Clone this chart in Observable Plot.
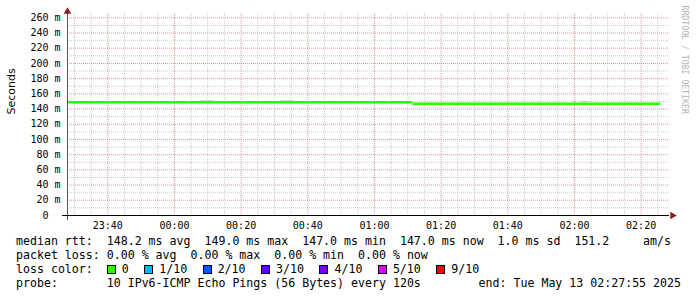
<!DOCTYPE html>
<html><head><meta charset="utf-8">
<script src="https://cdn.jsdelivr.net/npm/d3@7"></script>
<script src="https://cdn.jsdelivr.net/npm/@observablehq/plot@0.6"></script>
<style>
html,body{margin:0;padding:0;background:#fff;}
#wrap{position:relative;width:697px;height:297px;overflow:hidden;background:#fff;}
#chart svg{display:block;}
.row{position:absolute;font-family:"DejaVu Sans Mono",monospace;font-size:11.6px;line-height:14px;white-space:pre;color:#000;}
.box{position:absolute;width:7px;height:7px;border:1px solid #000;}
</style></head><body>
<div id="wrap"><div id="chart"></div><div id="legend"></div></div>
<script>
// ---- data ----
const viewStart = "2025-05-12T23:27:55Z";
const viewEnd = "2025-05-13T02:28:31Z";
const segStart = ["2025-05-12T23:27:55Z", "2025-05-13T01:11:30Z"];
const segEnd = ["2025-05-13T01:11:30Z", "2025-05-13T02:25:55Z"];
const medianRtt = [149.0, 147.0];           // ms
const smokeStart = ["2025-05-13T00:07:55Z", "2025-05-13T00:31:55Z", "2025-05-13T02:01:55Z"];
const smokeEnd = ["2025-05-13T00:11:55Z", "2025-05-13T00:35:55Z", "2025-05-13T02:03:55Z"];
const smokeMax = [150.8, 150.8, 149.6];     // ms
const yTicks = [0, 20, 40, 60, 80, 100, 120, 140, 160, 180, 200, 220, 240, 260];
const yMinor = [10, 30, 50, 70, 90, 110, 130, 150, 170, 190, 210, 230, 250];
const statNames = ["avg", "max", "min", "now"];
const rttStats = [148.2, 149.0, 147.0, 147.0];
const rttSd = 1.0;
const rttAmps = 151.2;
const lossStats = [0.00, 0.00, 0.00, 0.00];
const lossLabels = ["0", "1/10", "2/10", "3/10", "4/10", "5/10", "9/10"];
const lossColors = ["#26ff00", "#00b8ff", "#0059ff", "#5e00ff", "#7e00ff", "#dd00ff", "#ff0000"];
const probeText = "10 IPv6-ICMP Echo Pings (56 Bytes) every 120s";
const endText = "end: Tue May 13 02:27:55 2025";

// ---- derived tables ----
const t0 = new Date(viewStart), t1 = new Date(viewEnd);
const medianData = medianRtt.map((v, i) => ({start: new Date(segStart[i]), end: new Date(segEnd[i]), v}));
const smokeData = smokeMax.map((v, i) => ({start: new Date(smokeStart[i]), end: new Date(smokeEnd[i]), v}));
const majorX = d3.utcMinute.every(20).range(t0, t1);
const minorX = d3.utcMinute.every(5).range(t0, t1).filter(d => d.getUTCMinutes() % 20 !== 0);
const yMax = 265.7;
const mono = "DejaVu Sans Mono";
const arrowUp = [{x: t0, y: yMax}];
const arrowRight = [{x: t1, y: 0}];

const chart = Plot.plot({
  width: 697,
  height: 232,
  marginLeft: 67,
  marginRight: 28,
  marginTop: 13,
  marginBottom: 17,
  style: {background: "transparent", overflow: "visible"},
  x: {type: "utc", domain: [t0, t1], axis: null},
  y: {domain: [0, yMax], axis: null},
  marks: [
    Plot.gridX(minorX, {stroke: "#8c8c8c", strokeOpacity: 0.45, strokeDasharray: "1,1"}),
    Plot.gridY(yMinor, {stroke: "#8c8c8c", strokeOpacity: 0.45, strokeDasharray: "1,1"}),
    Plot.gridX(majorX, {stroke: "#d04040", strokeOpacity: 0.55, strokeDasharray: "1,1"}),
    Plot.gridY(yTicks.filter(d => d > 0), {stroke: "#d04040", strokeOpacity: 0.55, strokeDasharray: "1,1"}),
    Plot.ruleY(smokeData, {x1: "start", x2: "end", y: "v", stroke: "#c4c4c4", strokeWidth: 1}),
    Plot.ruleY(medianData, {x1: "start", x2: "end", y: "v", stroke: lossColors[0], strokeWidth: 2.4}),
    Plot.ruleX([t0], {stroke: "#555", strokeWidth: 1, insetBottom: -5}),
    Plot.ruleY([0], {stroke: "#000", strokeWidth: 1.2, insetLeft: -5}),
    Plot.dot(arrowUp, {x: "x", y: "y", symbol: "triangle", r: 2.8, fill: "#8e1c1c", dy: -2}),
    Plot.dot(arrowRight, {x: "x", y: "y", symbol: "triangle", r: 2.8, fill: "#8e1c1c", rotate: 90, dx: 3}),
    Plot.axisX(majorX, {tickSize: 0, tickPadding: 6, tickFormat: d3.utcFormat("%H:%M"), fontFamily: mono, fontSize: 10, fill: "#000"}),
    Plot.axisY(yTicks, {tickSize: 0, tickPadding: 7, textAnchor: "end",
      tickFormat: d => d === 0 ? "0\u00a0\u00a0" : `${d} m`, fontFamily: mono, fontSize: 10, fill: "#000"}),
    Plot.text(["Seconds"], {frameAnchor: "left", text: d => d, rotate: -90, dx: -56, fontFamily: "DejaVu Sans", fontSize: 11, fill: "#000"}),
    Plot.text(["RRDTOOL / TOBI OETIKER"], {frameAnchor: "top-right", text: d => d, rotate: 90, textAnchor: "start", dx: 18, dy: -8, fontFamily: mono, fontSize: 8.2, fill: "#b4b4b4"})
  ]
});
document.getElementById("chart").appendChild(chart);

// ---- legend (below the svg) ----
const legend = document.getElementById("legend");
const cw = 6.98, left = 16;
function row(text, x, center, align) {
  const d = document.createElement("div");
  d.className = "row";
  d.textContent = text;
  d.style.top = (center - 7.5) + "px";
  if (align === "right") { d.style.right = (697 - x) + "px"; } else { d.style.left = x + "px"; }
  legend.appendChild(d);
}
row("median rtt:  " + rttStats.map((v, i) => `${v.toFixed(1)} ms ${statNames[i]}`).join("  ")
  + `  ${rttSd.toFixed(1)} ms sd  ${rttAmps.toFixed(1)}`, left, 241);
row("am/s", 671, 241, "right");
row("packet loss: " + lossStats.map((v, i) => `${v.toFixed(2)} % ${statNames[i]}`).join("  "), left, 255);
row("loss color:", left, 269);
let bx = left + 13 * cw;
lossLabels.forEach((lab, i) => {
  const b = document.createElement("div");
  b.className = "box";
  b.style.left = bx + "px";
  b.style.top = "265px";
  b.style.background = lossColors[i];
  legend.appendChild(b);
  row(lab, bx + 15, 269);
  bx = bx + 15 + lab.length * cw + 15.5;
});
row("probe:       " + probeText, left, 283);
row(endText, 681, 283, "right");
</script>
</body></html>
